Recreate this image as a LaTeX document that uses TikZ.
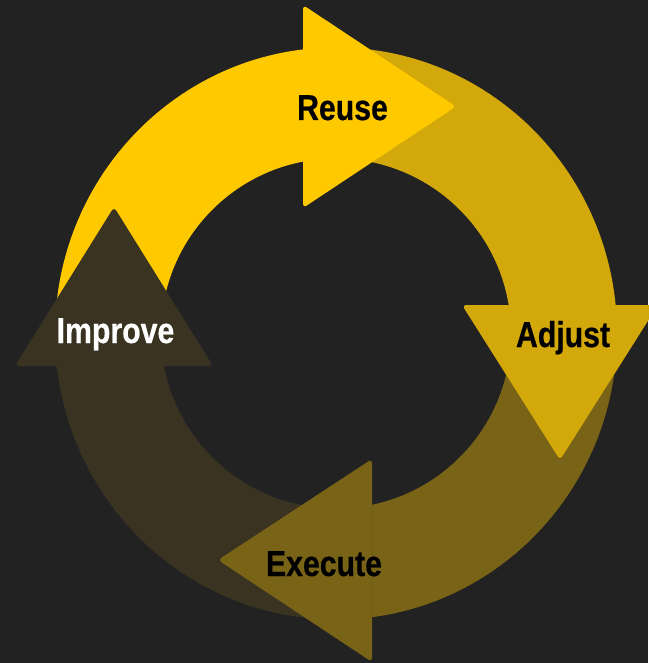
\documentclass[tikz,border=0pt]{standalone}
\usepackage{fontspec}
\newfontfamily\lblfont{Liberation Sans}[FakeStretch=0.84,FakeBold=0.5]
\definecolor{bgc}{HTML}{222222}
\definecolor{creuse}{HTML}{FFC900}
\definecolor{cadjust}{HTML}{D3A80A}
\definecolor{cexecute}{HTML}{786316}
\definecolor{cimprove}{HTML}{3A3322}
\newcommand\ringpath{(336,333.5) ellipse [x radius=281pt, y radius=286pt] (336,333.5) circle [radius=175pt]}
\tikzset{
  ringbody/.style={fill=#1, even odd rule},
  arrowhead/.style={fill=#1, rounded corners=4pt},
  lbl/.style={font=\lblfont\bfseries\fontsize{36}{40}\selectfont, anchor=base, inner sep=0pt, text=#1}
}
\begin{document}
\begin{tikzpicture}[x=1pt,y=-1pt]
\useasboundingbox (0,0) rectangle (648,663);
\fill[bgc] (0,0) rectangle (648,663);
% ring bodies
\begin{scope}\clip (0,0) rectangle (303,366); \fill[ringbody=creuse] \ringpath; \end{scope}
\begin{scope}\clip (303,0) rectangle (648,305); \fill[ringbody=cadjust] \ringpath; \end{scope}
\begin{scope}\clip (372,305) rectangle (648,663); \fill[ringbody=cexecute] \ringpath; \end{scope}
\begin{scope}\clip (0,366) rectangle (372,663); \fill[ringbody=cimprove] \ringpath; \end{scope}
% arrow heads
\fill[arrowhead=creuse] (303,5) -- (456,106.5) -- (303,208) -- cycle;
\fill[arrowhead=cadjust] (462,305) -- (560,460) -- (658,305) -- cycle;
\fill[arrowhead=cexecute] (372,459) -- (218,560) -- (372,662) -- cycle;
\fill[arrowhead=cimprove] (15,366) -- (114,207) -- (213,366) -- cycle;
% labels
\node[lbl=black] (reuse) at (342.5,120) {Reuse};
\node[lbl=black] (adjust) at (563,347) {Adjust};
\node[lbl=black] (execute) at (324,576) {Execute};
\node[lbl=white] (improve) at (115.5,343) {Improve};
\end{tikzpicture}
\end{document}
